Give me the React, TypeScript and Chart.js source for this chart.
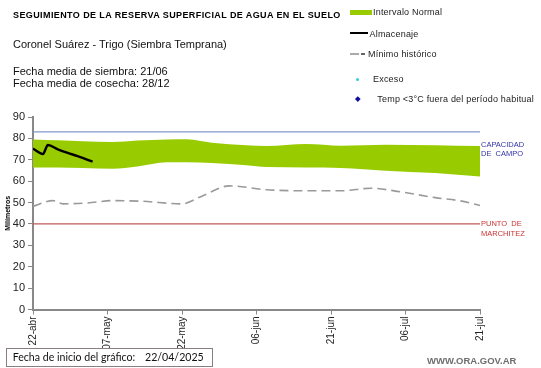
import React, { useEffect, useRef } from 'react';
import { Chart, registerables } from 'chart.js';

Chart.register(...registerables);

// ---- data ----
const tickLabels = ['22-abr', '07-may', '22-may', '06-jun', '21-jun', '06-jul', '21-jul'];
const tickStepDays = 15;

const bandDays = [0, 5, 10, 16, 21, 27, 31, 36, 43, 47, 55, 62, 71, 81, 90];
const bandUpper = [79.5, 79.1, 78.7, 78.3, 79.0, 79.5, 79.6, 78.0, 76.8, 76.4, 77.4, 76.6, 77.0, 76.8, 76.4];
const bandLower = [66.4, 66.4, 66.2, 65.8, 66.9, 68.8, 68.9, 68.5, 67.4, 66.6, 66.4, 66.2, 64.9, 63.8, 62.2];

const storageDays = [0, 2, 3, 5, 7, 9, 12];
const storageValues = [75.2, 72.7, 76.9, 74.9, 73.2, 71.7, 69.1];

const minDays = [0, 4, 6, 11, 16, 22, 30, 34, 39.5, 47, 55, 62, 68, 74, 81, 86, 90];
const minValues = [48.2, 50.9, 49.4, 49.8, 50.9, 50.6, 49.4, 53.0, 57.8, 56.0, 55.5, 55.5, 56.7, 55.0, 52.3, 50.8, 48.6];

const fieldCapacity = 83;
const wiltingPoint = 40;
const dayRange = [0, 90];

const FONT = "'Liberation Sans', Arial, sans-serif";
const FOOT_FONT = "Lato, 'Liberation Sans', sans-serif";

const pts = (xs: number[], ys: number[]) => xs.map((x, i) => ({ x, y: ys[i] }));

export default function App() {
  const ref = useRef<HTMLCanvasElement>(null);

  useEffect(() => {
    if (!ref.current) return;
    const chart = new Chart(ref.current, {
      type: 'line',
      data: {
        datasets: [
          {
            label: 'lower',
            data: pts(bandDays, bandLower),
            borderWidth: 0,
            pointRadius: 0,
            fill: false,
            cubicInterpolationMode: 'monotone',
            order: 5,
          },
          {
            label: 'Intervalo Normal',
            data: pts(bandDays, bandUpper),
            borderWidth: 0,
            pointRadius: 0,
            backgroundColor: '#99CC00',
            fill: '-1',
            cubicInterpolationMode: 'monotone',
            order: 4,
          },
          {
            label: 'Mínimo histórico',
            data: pts(minDays, minValues),
            borderColor: '#9a9a9a',
            borderWidth: 1.6,
            borderDash: [9, 5],
            pointRadius: 0,
            fill: false,
            cubicInterpolationMode: 'monotone',
            order: 3,
          },
          {
            label: 'Capacidad de campo',
            data: pts(dayRange, [fieldCapacity, fieldCapacity]),
            borderColor: '#8096cc',
            borderWidth: 1.2,
            pointRadius: 0,
            fill: false,
            order: 2,
          },
          {
            label: 'Punto de marchitez',
            data: pts(dayRange, [wiltingPoint, wiltingPoint]),
            borderColor: '#c05a5a',
            borderWidth: 1.2,
            pointRadius: 0,
            fill: false,
            order: 2,
          },
          {
            label: 'Almacenaje',
            data: pts(storageDays, storageValues),
            borderColor: '#000000',
            borderWidth: 2.4,
            pointRadius: 0,
            fill: false,
            cubicInterpolationMode: 'monotone',
            order: 0,
          },
        ],
      },
      options: {
        animation: false,
        responsive: false,
        maintainAspectRatio: false,
        layout: { padding: { left: 0, right: 61, top: 117, bottom: 18.5 } },
        plugins: {
          legend: { display: false },
          tooltip: { enabled: false },
        },
        scales: {
          x: {
            type: 'linear',
            min: dayRange[0],
            max: dayRange[1],
            afterBuildTicks: (s: any) => {
              s.ticks = tickLabels.map((_, i) => ({ value: i * tickStepDays }));
            },
            afterFit: (s: any) => {
              s.height = 40;
            },
            ticks: {
              stepSize: tickStepDays,
              autoSkip: false,
              minRotation: 90,
              maxRotation: 90,
              padding: 2,
              color: '#222',
              font: { family: FONT, size: 10 },
              callback: (v: any) => tickLabels[Math.round(Number(v) / tickStepDays)] ?? '',
            },
            grid: { drawOnChartArea: false, drawTicks: true, tickLength: 5, color: '#888' },
            border: { display: true, color: '#888', width: 2 },
          },
          y: {
            min: 0,
            max: 90,
            afterFit: (s: any) => {
              s.width = 33;
            },
            ticks: {
              stepSize: 10,
              padding: 3,
              color: '#222',
              font: { family: FONT, size: 11 },
            },
            grid: { drawOnChartArea: false, drawTicks: true, tickLength: 5, color: '#888' },
            border: { display: true, color: '#888', width: 2 },
            title: {
              display: true,
              text: 'Milímetros',
              color: '#000',
              font: { family: FONT, size: 7, weight: 'bold' },
              padding: { top: 4, bottom: 0 },
            },
          },
        },
      },
    });
    return () => chart.destroy();
  }, []);

  const txt = (left: number, top: number, size: number, extra: React.CSSProperties = {}) => ({
    position: 'absolute' as const,
    left,
    top,
    fontSize: size,
    lineHeight: `${size}px`,
    fontFamily: FONT,
    whiteSpace: 'pre' as const,
    color: '#000',
    ...extra,
  });

  return (
    <div style={{ position: 'absolute', left: 0, top: 0, width: 541, height: 368, background: '#fff', overflow: 'hidden' }}>
      <canvas ref={ref} width={541} height={368} style={{ position: 'absolute', left: 0, top: 0 }} />

      <div style={txt(13, 10.7, 9, { fontWeight: 'bold', letterSpacing: '0.4px' })}>
        SEGUIMIENTO DE LA RESERVA SUPERFICIAL DE AGUA EN EL SUELO
      </div>
      <div style={txt(13, 39, 11, { color: '#111' })}>Coronel Suárez - Trigo (Siembra Temprana)</div>
      <div style={txt(13, 66.4, 11, { color: '#111' })}>Fecha media de siembra: 21/06</div>
      <div style={txt(13, 78, 11, { color: '#111' })}>Fecha media de cosecha: 28/12</div>

      {/* legend */}
      <div style={{ position: 'absolute', left: 350, top: 10.3, width: 22, height: 5, background: '#99CC00' }} />
      <div style={txt(373, 8.3, 9, { letterSpacing: '0.2px', color: '#222' })}>Intervalo Normal</div>
      <div style={{ position: 'absolute', left: 350, top: 32.3, width: 18, height: 2, background: '#000' }} />
      <div style={txt(369.5, 29.6, 9, { letterSpacing: '0.2px', color: '#222' })}>Almacenaje</div>
      <div style={{ position: 'absolute', left: 350, top: 53.3, width: 9, height: 1.5, background: '#aaa' }} />
      <div style={{ position: 'absolute', left: 361, top: 53.3, width: 4, height: 1.5, background: '#666' }} />
      <div style={txt(368, 49.8, 9, { letterSpacing: '0.2px', color: '#222' })}>Mínimo histórico</div>
      <div style={{ position: 'absolute', left: 355.8, top: 77.8, width: 3, height: 3, borderRadius: 2, background: '#33CCDD' }} />
      <div style={txt(373, 74.9, 9, { letterSpacing: '0.2px', color: '#222' })}>Exceso</div>
      <div style={{ position: 'absolute', left: 355.5, top: 97.2, width: 3.6, height: 3.6, background: '#1010A0', transform: 'rotate(45deg)' }} />
      <div style={txt(377.3, 94.6, 9, { letterSpacing: '0.2px', color: '#222' })}>Temp &lt;3°C fuera del período habitual</div>

      {/* reference line labels */}
      <div style={txt(481, 141.3, 7.5, { color: '#3333AA' })}>CAPACIDAD</div>
      <div style={txt(481, 150.3, 7.5, { color: '#3333AA' })}>DE  CAMPO</div>
      <div style={txt(481, 220.3, 7.5, { color: '#CC3333' })}>PUNTO  DE</div>
      <div style={txt(481, 230, 7.5, { color: '#CC3333' })}>MARCHITEZ</div>

      {/* footer */}
      <div
        style={{
          position: 'absolute',
          left: 6,
          top: 348,
          width: 207,
          height: 19,
          border: '1px solid #8a7f7f',
          boxSizing: 'border-box',
          background: '#fff',
        }}
      />
      <div style={txt(12.7, 352.3, 10.6, { fontFamily: FOOT_FONT, color: '#111' })}>Fecha de inicio del gráfico:</div>
      <div style={txt(145, 352.3, 10.6, { fontFamily: FOOT_FONT, color: '#111' })}>22/04/2025</div>
      <div style={txt(427, 356, 9.5, { fontWeight: 'bold', color: '#6e6e6e' })}>WWW.ORA.GOV.AR</div>
    </div>
  );
}
